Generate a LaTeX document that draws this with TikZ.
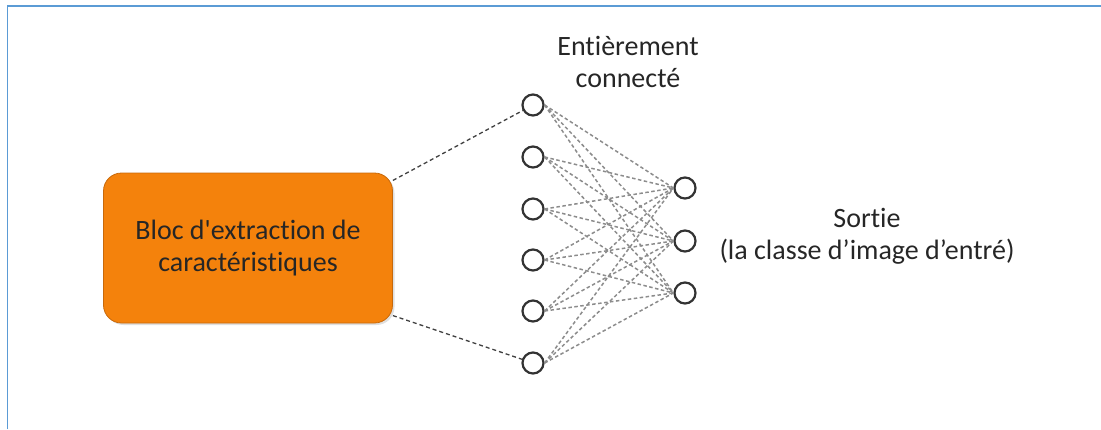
\documentclass[tikz,border=0pt]{standalone}
\usepackage{fontspec}
\setmainfont{Carlito}[Ligatures={TeXOff,NoCommon}]
\usetikzlibrary{positioning,shapes.geometric,fit,arrows.meta,shadows}

\definecolor{cadreblue}{RGB}{91,155,213}
\definecolor{blocorange}{RGB}{244,130,12}
\definecolor{blocedge}{RGB}{200,105,10}
\definecolor{liengris}{RGB}{140,140,140}

\tikzset{
  bloc/.style={rectangle, rounded corners=18pt, fill=blocorange, draw=blocedge,
    line width=0.8pt, minimum width=289pt, minimum height=150pt, align=center,
    text=black!85, drop shadow={opacity=0.25, shadow xshift=2pt, shadow yshift=-2pt}},
  neurone/.style={circle, draw=black!80, line width=2.2pt, fill=white, minimum size=21pt, inner sep=0pt},
  lien/.style={draw=liengris, line width=1.5pt, dash pattern=on 3.5pt off 2.5pt},
  amorce/.style={draw=black!75, line width=1.3pt, dash pattern=on 4pt off 3pt},
  etiquette/.style={align=center, text=black!85}
}

\begin{document}
\begin{tikzpicture}[x=1pt,y=-1pt, font=\fontsize{28}{32}\selectfont]
      \useasboundingbox (0,0) rectangle (1101,429);
      % Frame
      \draw[cadreblue, line width=1.6pt] (7.5,429) -- (7.5,6) -- (1101,6);

      % Nodes
      \node[bloc] (bloc) at (248,248) {Bloc d'extraction de\\caract\'eristiques};
      \foreach \i/\y in {1/105,2/157,3/209,4/260,5/311,6/363}
        \node[neurone] (in\i) at (533,\y) {};
      \foreach \j/\y in {1/188,2/241,3/293}
        \node[neurone] (out\j) at (685,\y) {};
      \node[etiquette] (fc) at (628,62) {Enti\`erement\\connect\'e};
      \node[etiquette] (sortie) at (867,236) {Sortie\\(la classe d’image d’entr\'e)};

      % Arrows
      \foreach \i in {1,...,6}
        \foreach \j in {1,2,3}
          \draw[lien] (in\i.east) -- (out\j.west);
      \draw[amorce] (bloc.25) -- (in1);
      \draw[amorce] (bloc.-25) -- (in6);

  \end{tikzpicture}
\end{document}
